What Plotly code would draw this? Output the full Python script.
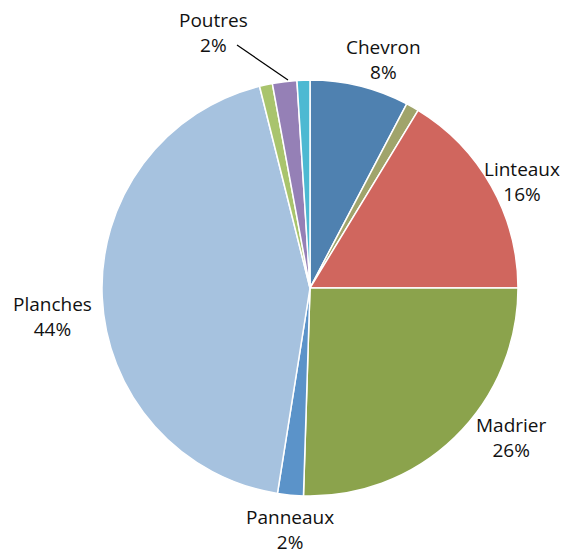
import plotly.graph_objects as go

OFF = 8  # page body margin shifts the figure
W, H = 580 - OFF, 554 - OFF

labels = ["Chevron", "Divers 1", "Linteaux", "Madrier", "Panneaux",
          "Planches", "Divers 2", "Poutres", "Divers 3"]
values = [7.7, 1.0, 16.3, 25.5, 2.0, 43.6, 1.0, 1.9, 1.0]
colors = ["#4F81B0", "#A0A46B", "#D0665E", "#8BA34C", "#5B93C9",
          "#A6C2DF", "#A9C46D", "#9580B6", "#4DB9D2"]

# pie geometry in window pixels
cx, cy, r = 310 - OFF, 288 - OFF, 208

# label centres (window pixels) for named slices
label_pos = {
    "Chevron": (383, 59),
    "Linteaux": (522, 181),
    "Madrier": (511, 437),
    "Panneaux": (290, 529),
    "Planches": (52, 316),
    "Poutres": (213, 33),
}


def px(x, y):
    return (x - OFF) / W, 1 - (y - OFF) / H


total = sum(values)

fig = go.Figure(go.Pie(
    labels=labels,
    values=values,
    sort=False,
    direction="clockwise",
    rotation=0,
    marker=dict(colors=colors, line=dict(color="white", width=1.5)),
    textinfo="none",
    hoverinfo="label+percent",
    domain=dict(x=[(cx - r) / W, (cx + r) / W],
                y=[(H - cy - r) / H, (H - cy + r) / H]),
    showlegend=False,
))

annotations = []
for lab, val in zip(labels, values):
    if lab not in label_pos:
        continue
    x, y = px(*label_pos[lab])
    annotations.append(dict(
        x=x, y=y, xref="paper", yref="paper",
        text=f"{lab}<br>{round(val / total * 100)}%",
        showarrow=False, xanchor="center", yanchor="middle",
    ))

x0, y0 = px(237, 45)
x1, y1 = px(288, 80)

fig.update_layout(
    width=W, height=H,
    margin=dict(l=0, r=0, t=0, b=0),
    paper_bgcolor="white",
    font=dict(family="Open Sans", size=19, color="#111111"),
    annotations=annotations,
    shapes=[dict(type="line", xref="paper", yref="paper",
                 x0=x0, y0=y0, x1=x1, y1=y1,
                 line=dict(color="black", width=1.2))],
)

fig.write_html("out.html")
